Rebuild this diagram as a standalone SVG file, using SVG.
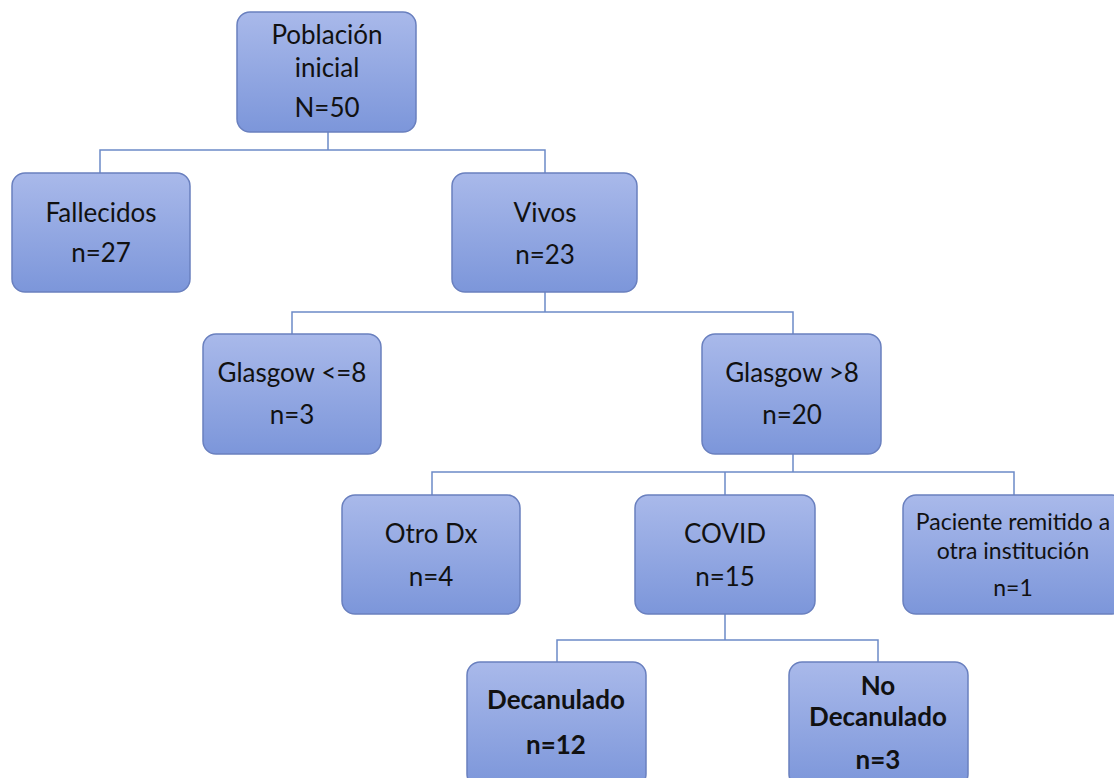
<svg xmlns="http://www.w3.org/2000/svg" width="1114" height="778" viewBox="0 0 1114 778">
<defs>
<linearGradient id="g" x1="0" y1="0" x2="0" y2="1">
<stop offset="0" stop-color="#a9b9ea"/>
<stop offset="1" stop-color="#7c96da"/>
</linearGradient>
<style>
.box{fill:url(#g);stroke:#6a80bf;stroke-width:1.5}
.t{font-family:Lato,"Open Sans","Liberation Sans",sans-serif;font-size:26px;fill:#111;text-anchor:middle}
.s{font-size:23px}
.b{font-weight:bold}
.c{fill:none;stroke:#6c8ac8;stroke-width:1.5}
</style>
</defs>
<rect width="1114" height="778" fill="#fff"/>
<g id="connectors" class="c">
<path d="M328 132V150M100 173V150H545V173"/>
<path d="M545 292V312M292 334V312H793V334"/>
<path d="M793 454V472M432 495V472H1014V495M725 472V495"/>
<path d="M725 614V640M557 662V640H878V662"/>
</g>
<g id="poblacion"><rect class="box" x="237" y="12" width="179" height="120" rx="13"/>
<text class="t" x="327" y="44">Población</text><text class="t" x="327" y="77">inicial</text><text class="t" x="327" y="117">N=50</text></g>
<g id="fallecidos"><rect class="box" x="12" y="173" width="178" height="119" rx="13"/>
<text class="t" x="101" y="222">Fallecidos</text><text class="t" x="101" y="262">n=27</text></g>
<g id="vivos"><rect class="box" x="452" y="173" width="185" height="119" rx="13"/>
<text class="t" x="545" y="222">Vivos</text><text class="t" x="545" y="264">n=23</text></g>
<g id="glasgow-le8"><rect class="box" x="203" y="334" width="178" height="120" rx="13"/>
<text class="t" x="292" y="382">Glasgow &lt;=8</text><text class="t" x="292" y="424">n=3</text></g>
<g id="glasgow-gt8"><rect class="box" x="702" y="334" width="179" height="120" rx="13"/>
<text class="t" x="792" y="382">Glasgow &gt;8</text><text class="t" x="792" y="424">n=20</text></g>
<g id="otro-dx"><rect class="box" x="342" y="495" width="178" height="119" rx="13"/>
<text class="t" x="431" y="543">Otro Dx</text><text class="t" x="431" y="586">n=4</text></g>
<g id="covid"><rect class="box" x="635" y="495" width="180" height="119" rx="13"/>
<text class="t" x="725" y="543">COVID</text><text class="t" x="725" y="586">n=15</text></g>
<g id="remitido"><rect class="box" x="903" y="495" width="222" height="119" rx="13"/>
<text class="t s" x="1013" y="530">Paciente remitido a</text><text class="t s" x="1013" y="559">otra institución</text><text class="t s" x="1013" y="596">n=1</text></g>
<g id="decanulado"><rect class="box" x="467" y="662" width="179" height="125" rx="13"/>
<text class="t b" x="556" y="709">Decanulado</text><text class="t b" x="556" y="754">n=12</text></g>
<g id="no-decanulado"><rect class="box" x="789" y="662" width="179" height="125" rx="13"/>
<text class="t b" x="878" y="695">No</text><text class="t b" x="878" y="726">Decanulado</text><text class="t b" x="878" y="769">n=3</text></g>
</svg>
